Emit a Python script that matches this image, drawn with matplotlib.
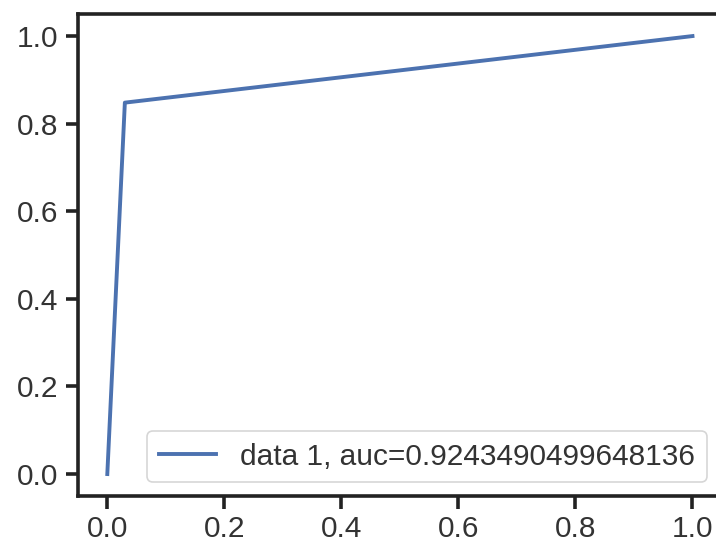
import matplotlib
matplotlib.use("Agg")
import matplotlib.pyplot as plt

fpr = [0.0, 0.030, 1.0]
tpr = [0.0, 0.848, 1.0]
label = "data 1, auc=0.9243490499648136"
xticks = [0.0, 0.2, 0.4, 0.6, 0.8, 1.0]
yticks = [0.0, 0.2, 0.4, 0.6, 0.8, 1.0]

plt.rcParams['font.family'] = ['Liberation Sans', 'DejaVu Sans']

fig = plt.figure(figsize=(7.16, 5.45), dpi=100)
ax = fig.add_axes([0.109, 0.090, 0.899, 0.884])
ax.plot(fpr, tpr, color='#4C72B0', lw=2.8, label=label)
ax.set_xlim(-0.05, 1.05)
ax.set_ylim(-0.05, 1.05)
ax.set_xticks(xticks)
ax.set_yticks(yticks)
ax.set_xticklabels([f"{v:.1f}" for v in xticks])
ax.set_yticklabels([f"{v:.1f}" for v in yticks])
for s in ax.spines.values():
    s.set_linewidth(2.6)
    s.set_color('#222222')
ax.tick_params(axis='both', length=9, width=2.6, color='#222222',
               labelsize=21.5, labelcolor='#333333', pad=5)
leg = ax.legend(loc='lower right', fontsize=21.5, frameon=True, fancybox=True,
                handlelength=1.9, borderpad=0.4, handletextpad=0.8,
                labelcolor='#333333', bbox_to_anchor=(1.0, -0.003))
leg.get_frame().set_edgecolor('#cccccc')
leg.get_frame().set_linewidth(1.2)
fig.savefig("out.png", dpi=100)
